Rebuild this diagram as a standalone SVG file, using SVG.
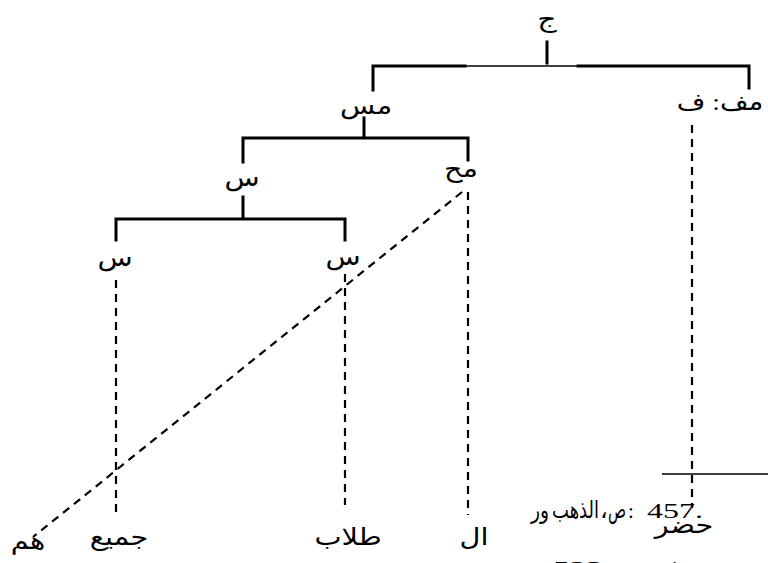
<svg xmlns="http://www.w3.org/2000/svg" width="768" height="563" viewBox="0 0 768 563">
<style>
  text { font-family: "Liberation Serif", "DejaVu Sans", serif; fill: #000; }
  .lbl { font-size: 24px; text-anchor: middle; }
  .solid { stroke: #000; stroke-width: 3; fill: none; stroke-linecap: square; }
  .thin { stroke: #000; stroke-width: 1.5; fill: none; }
  .dash { stroke: #000; stroke-width: 2.2; fill: none; stroke-dasharray: 8 6; }
  .note { font-size: 21px; }
  .ar { font-size: 24px; }
</style>
<rect width="768" height="563" fill="#fff"/>
<g id="connectors">
  <path class="solid" d="M547 42 V63 M373 90 V66 H465 M578 66 H749 V88"/>
  <path class="thin" d="M465 66 H578"/>
  <path class="solid" d="M364 118 V138 M243 162 V138 H468 V160"/>
  <path class="solid" d="M243 197 V219 M116 240 V219 H345 V240"/>
  <line class="dash" x1="116" y1="280" x2="116" y2="512"/>
  <line class="dash" x1="345" y1="274" x2="345" y2="505"/>
  <line class="dash" x1="468" y1="192" x2="468" y2="515"/>
  <line class="dash" x1="692" y1="125" x2="692" y2="508"/>
  <line class="dash" x1="462" y1="192" x2="33" y2="537"/>
</g>
<g id="n-jim"><text class="lbl" transform="translate(547,27) scale(1.25,1)">ج</text></g>
<g id="n-maf"><text class="lbl" transform="translate(720,110) scale(1.15,1)">مف: ف</text></g>
<g id="n-mas"><text class="lbl" transform="translate(366,114) scale(1.2,1)">مس</text></g>
<g id="n-mah"><text class="lbl" transform="translate(461,177) scale(1.2,1)">مح</text></g>
<g id="n-sin-mid"><text class="lbl" transform="translate(242,186) scale(1.2,1)">س</text></g>
<g id="n-sin-left"><text class="lbl" transform="translate(115,266) scale(1.2,1)">س</text></g>
<g id="n-sin-right"><text class="lbl" transform="translate(343,265) scale(1.2,1)">س</text></g>
<g id="n-hum"><text class="lbl" transform="translate(28,549) scale(1.2,1)">هم</text></g>
<g id="n-jamee"><text class="lbl" transform="translate(119,545) scale(1.2,1)">جميع</text></g>
<g id="n-tullab"><text class="lbl" transform="translate(348,545) scale(1.2,1)">طلاب</text></g>
<g id="n-al"><text class="lbl" transform="translate(474,545) scale(1.2,1)">ال</text></g>
<g id="n-hadar"><text class="lbl" transform="translate(684,533) scale(1.2,1)">حضر</text></g>
<g id="footnote">
  <line class="thin" x1="662" y1="474" x2="768" y2="474"/>
  <text class="note ar" x="531" y="518" textLength="18" lengthAdjust="spacingAndGlyphs">ور</text>
  <text class="note ar" x="552" y="518" textLength="47" lengthAdjust="spacingAndGlyphs">الذهب</text>
  <text class="note ar" x="600" y="518">،</text>
  <text class="note ar" x="608" y="518" textLength="18" lengthAdjust="spacingAndGlyphs">ص</text>
  <text class="note" x="628" y="518">:</text>
  <text class="note" x="647" y="518" style="font-size:22px" textLength="56" lengthAdjust="spacingAndGlyphs">457.</text>
  <text class="note" x="553" y="577" style="font-size:24px" textLength="50" lengthAdjust="spacingAndGlyphs">523</text>
  <text class="note" x="668" y="577" style="font-size:24px">1</text>
</g>
</svg>
